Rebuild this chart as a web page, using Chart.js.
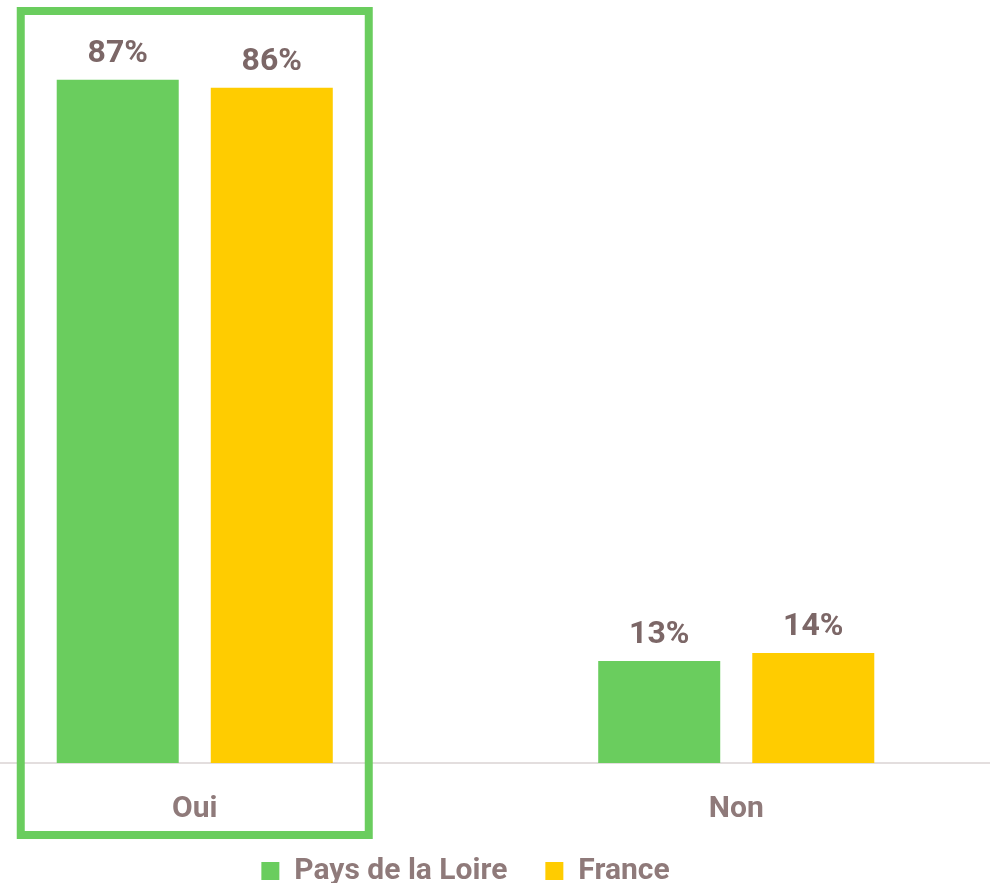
<!DOCTYPE html>
<html>
<head>
<meta charset="utf-8">
<script src="https://cdn.jsdelivr.net/npm/chart.js@4"></script>
<style>
html,body{margin:0;padding:0;background:#fff;overflow:hidden;width:990px;height:883px;}
#c{position:absolute;left:-76px;top:0;}
</style>
</head>
<body>
<canvas id="c" width="1083" height="896"></canvas>
<script>
const categories = ["Oui", "Non"];
const seriesNames = ["Pays de la Loire", "France"];
const paysDeLaLoire = [87, 13];
const france = [86, 14];
const highlightedCategory = "Oui";

const FONT = "Roboto, 'Liberation Sans', sans-serif";
const valueColor = "#7C6767";
const labelColor = "#8F7A7A";

const valueLabels = {
  id: "valueLabels",
  afterDatasetsDraw(chart) {
    const ctx = chart.ctx;
    ctx.save();
    ctx.font = "bold 32px " + FONT;
    ctx.fillStyle = valueColor;
    ctx.textAlign = "center";
    ctx.textBaseline = "alphabetic";
    chart.data.datasets.forEach((ds, i) => {
      chart.getDatasetMeta(i).data.forEach((bar, j) => {
        ctx.fillText(ds.data[j] + "%", bar.x, bar.y - 18);
      });
    });
    ctx.restore();
  }
};

const highlightBox = {
  id: "highlightBox",
  afterDraw(chart) {
    const x = chart.scales.x;
    const idx = categories.indexOf(highlightedCategory);
    const cx = x.getPixelForValue(idx);
    const ctx = chart.ctx;
    ctx.save();
    ctx.strokeStyle = "#6ACD5E";
    ctx.lineWidth = 8;
    ctx.strokeRect(cx - 174, 11, 348, 824);
    ctx.restore();
  }
};

new Chart(document.getElementById("c"), {
  type: "bar",
  data: {
    labels: categories,
    datasets: [
      { label: seriesNames[0], data: paysDeLaLoire, backgroundColor: "#6ACD5E" },
      { label: seriesNames[1], data: france, backgroundColor: "#FFCC00" }
    ]
  },
  options: {
    responsive: false,
    animation: false,
    devicePixelRatio: 1,
    categoryPercentage: 0.569,
    barPercentage: 0.792,
    layout: { padding: { top: 17, left: 0, right: 0, bottom: 0 } },
    scales: {
      x: {
        grid: { display: false, drawTicks: false },
        border: { display: true, color: "#E3DEDE", width: 2 },
        ticks: { color: labelColor, font: { family: FONT, size: 30, weight: "bold" }, padding: 28 },
        afterFit(scale) { scale.height -= 37; }
      },
      y: {
        display: false,
        min: 0,
        max: 95
      }
    },
    plugins: {
      legend: {
        position: "bottom",
        labels: {
          color: labelColor,
          font: { family: FONT, size: 30, weight: "bold" },
          boxWidth: 18,
          boxHeight: 18,
          padding: 38
        }
      },
      tooltip: { enabled: false }
    }
  },
  plugins: [valueLabels, highlightBox]
});
</script>
</body>
</html>
